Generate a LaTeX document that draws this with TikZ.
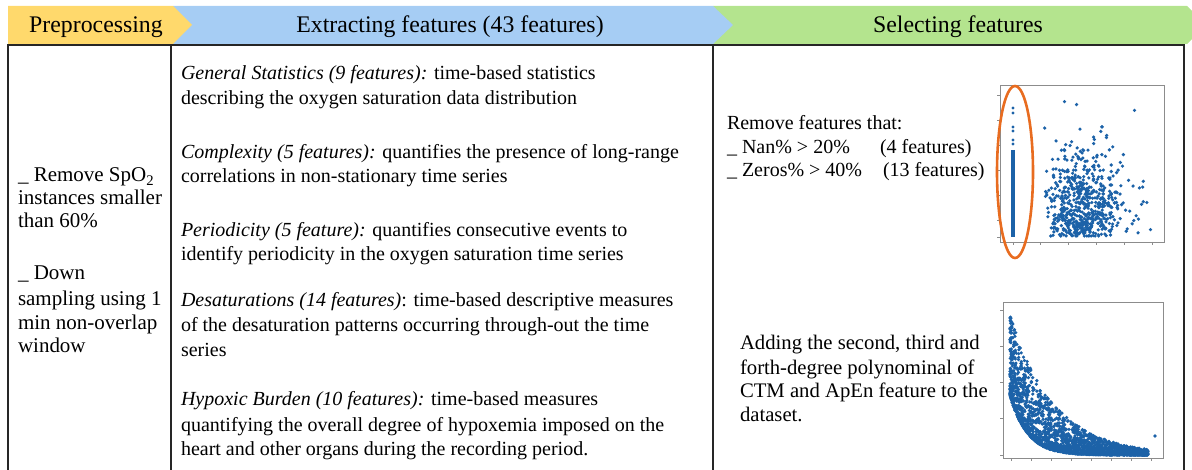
\documentclass[tikz,border=0pt]{standalone}
\usepackage{fontspec}
\setmainfont{Liberation Serif}
\definecolor{byellow}{RGB}{255,217,108}
\definecolor{bblue}{RGB}{166,205,244}
\definecolor{bgreen}{RGB}{180,228,142}
\definecolor{dotblue}{RGB}{28,98,168}
\definecolor{ellorange}{RGB}{232,108,32}
\begin{document}
\begin{tikzpicture}[x=1pt,y=-1pt,
  every node/.style={inner sep=0pt,outer sep=0pt},
  txt/.style={anchor=base west,font=\fontsize{20}{24}\selectfont},
  ltxt/.style={anchor=base west,font=\fontsize{21}{24}\selectfont},
  rtxt/.style={anchor=base west,font=\fontsize{20.7}{24}\selectfont},
  hdr/.style={anchor=base,font=\fontsize{23.8}{26}\selectfont},
  grid/.style={draw=black!85,line width=1.3pt},
  frame/.style={draw=black!45,line width=0.5pt},
  dot/.style={fill=dotblue},
  ell/.style={draw=ellorange,line width=2.6pt}]
\useasboundingbox (0,0) rectangle (1192,470);
\clip (0,0) rectangle (1192,470);
% banner
\fill[bgreen] (713,6) -- (1187,6) -- (1206,25) -- (1187,44) -- (713,44) -- cycle;
\fill[bblue] (173,6) -- (713,6) -- (733,25) -- (713,44) -- (173,44) -- cycle;
\fill[byellow] (8,6) -- (173,6) -- (192,25) -- (173,44) -- (8,44) -- cycle;
\node[hdr] (h1) at (96,33) {Preprocessing};
\node[hdr] (h2) at (450,33) {Extracting features (43 features)};
\node[hdr] (h3) at (958,33) {Selecting features};
% table
\draw[grid] (8,475) -- (8,45) -- (1184,45) -- (1184,475);
\draw[grid] (171,45) -- (171,475);
\draw[grid] (713,45) -- (713,475);
% left column
\node[ltxt] (p1) at (18,182) {\_ Remove SpO\textsubscript{2}};
\node[ltxt] (p2) at (18,205) {instances smaller};
\node[ltxt] (p3) at (18,228) {than 60\%};
\node[ltxt] (p4) at (18,280) {\_ Down};
\node[ltxt] (p5) at (18,306) {sampling using 1};
\node[ltxt] (p6) at (18,330) {min non-overlap};
\node[ltxt] (p7) at (18,353) {window};
% middle column
\node[txt] (m1) at (181,80) {\textit{General Statistics (9 features):} time-based statistics};
\node[txt] (m2) at (181,105) {describing the oxygen saturation data distribution};
\node[txt] (m3) at (181,159) {\textit{Complexity (5 features):} quantifies the presence of long-range};
\node[txt] (m4) at (181,183) {correlations in non-stationary time series};
\node[txt] (m5) at (181,237) {\textit{Periodicity (5 feature):} quantifies consecutive events to};
\node[txt] (m6) at (181,261) {identify periodicity in the oxygen saturation time series};
\node[txt] (m7) at (181,307) {\textit{Desaturations (14 features)}: time-based descriptive measures};
\node[txt] (m8) at (181,332) {of the desaturation patterns occurring through-out the time};
\node[txt] (m9) at (181,356) {series};
\node[txt] (m10) at (181,406) {\textit{Hypoxic Burden (10 features):} time-based measures};
\node[txt] (m11) at (181,431) {quantifying the overall degree of hypoxemia imposed on the};
\node[txt] (m12) at (181,455) {heart and other organs during the recording period.};
% right column
\node[txt] (r1) at (727,130) {Remove features that:};
\node[txt] (r2) at (727,154) {\makebox[153pt][l]{\_ Nan\% > 20\%}(4 features)};
\node[txt] (r3) at (727,177) {\makebox[156pt][l]{\_ Zeros\% > 40\%}(13 features)};
\node[rtxt] (r4) at (740,350) {Adding the second, third and};
\node[rtxt] (r5) at (740,374) {forth-degree polynominal of};
\node[rtxt] (r6) at (740,398) {CTM and ApEn feature to the};
\node[rtxt] (r7) at (740,421) {dataset.};
% upper scatter plot
\draw[frame] (1000,85) rectangle (1164,242);
\foreach \ty in {95,120,145,170,195,220,237} \draw[frame] (997,\ty) -- (1000,\ty);
\foreach \tx in {1013,1040,1068,1096,1124,1152} \draw[frame] (\tx,242) -- (\tx,245);
\pgfmathsetseed{11}
\foreach \k in {1,...,650}{
  \pgfmathsetmacro\a{rnd+rnd+rnd}\pgfmathsetmacro\b{rnd+rnd+rnd}
  \pgfmathsetmacro\px{1043+22*\a^1.5}
  \pgfmathsetmacro\py{min(236,238-13*\b^2.2)}
  \fill[dot] (\px,\py) circle[radius=1.8];
}
\draw[dotblue,line width=3.4pt] (1013,150) -- (1013,237);
\foreach \ty in {108,113,127,131,140,144}{\fill[dot] (1013,\ty) circle[radius=1.7];}
\draw[ell] (1015,172) ellipse[x radius=18,y radius=86];
% lower scatter plot
\draw[frame] (1003,302) rectangle (1163,458);
\foreach \ty in {310,346,382,418,455} \draw[frame] (1000,\ty) -- (1003,\ty);
\foreach \tx in {1011,1031,1051,1071,1091,1111,1131,1151} \draw[frame] (\tx,458) -- (\tx,461);
\pgfmathsetseed{5}
\foreach \k in {1,...,2200}{
  \pgfmathsetmacro\u{rnd}\pgfmathsetmacro\v{rnd}
  \pgfmathsetmacro\t{\u^1.3}
  \pgfmathsetmacro\px{1010+138*\t}
  \pgfmathsetmacro\yb{455-60*exp(-8*\t)}
  \pgfmathsetmacro\yt{455-140*exp(-3.2*\t)}
  \pgfmathsetmacro\py{\yb-(\yb-\yt)*\v^2.2}
  \fill[dot] (\px,\py) circle[radius=1.8];
}
\fill[dot] (1155,436) circle[radius=1.8];
\end{tikzpicture}
\end{document}
